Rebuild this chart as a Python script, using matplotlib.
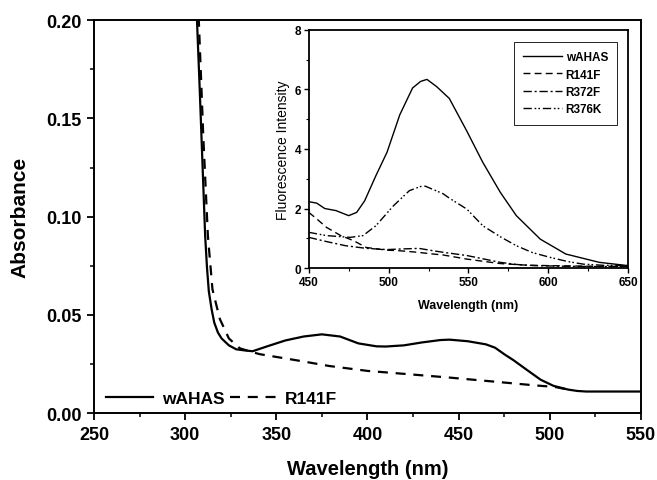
import numpy as np
import matplotlib
matplotlib.use('Agg')
import matplotlib.pyplot as plt
from matplotlib.ticker import MultipleLocator, FormatStrFormatter

plt.rcParams['font.family'] = ['Liberation Sans', 'DejaVu Sans']
plt.rcParams['font.weight'] = 'bold'

# Espectro de absorbancia (grafico principal)
wl_wahas = [304, 306.5, 308, 309, 310, 311, 312, 313, 314.5, 316, 318, 320, 324, 328, 332, 337,
            345, 355, 365, 375, 385, 395, 405, 410, 420, 430, 440, 445, 455, 465, 470, 475,
            480, 487, 495, 502, 510, 515, 520, 530, 540, 550]
abs_wahas = [0.25, 0.20, 0.165, 0.14, 0.115, 0.09, 0.074, 0.062, 0.053, 0.046, 0.041, 0.038,
             0.0345, 0.0325, 0.032, 0.0315, 0.034, 0.037, 0.039, 0.0401, 0.039, 0.0355, 0.034,
             0.0339, 0.0345, 0.036, 0.0372, 0.0374, 0.0366, 0.035, 0.0333, 0.030, 0.027, 0.0223,
             0.017, 0.0139, 0.012, 0.0113, 0.011, 0.011, 0.011, 0.011]

wl_r141f = [305, 307.5, 310, 312.5, 315, 319, 324, 330, 337, 341, 363, 379, 400, 420, 445,
            470, 491, 503, 510]
abs_r141f = [0.25, 0.20, 0.14, 0.09, 0.063, 0.048, 0.038, 0.033, 0.031, 0.030, 0.0266, 0.024,
             0.0215, 0.020, 0.0181, 0.016, 0.0142, 0.0133, 0.012]

# Espectros de fluorescencia (recuadro)
wl_f_wahas = [450, 455, 460, 467, 475, 480, 485, 492, 499, 507, 515, 520, 524, 530, 538, 549,
              559, 570, 580, 595, 611, 632, 650]
fl_wahas = [2.23, 2.18, 2.0, 1.93, 1.76, 1.87, 2.26, 3.1, 3.89, 5.15, 6.05, 6.27, 6.34, 6.1,
            5.7, 4.6, 3.55, 2.54, 1.76, 0.97, 0.47, 0.19, 0.08]

wl_f_r141f = [450, 455, 461, 470, 478, 486, 499, 507, 518, 528, 534, 549, 560, 570, 585, 600, 625, 650]
fl_r141f = [1.87, 1.65, 1.37, 1.09, 0.92, 0.69, 0.60, 0.58, 0.53, 0.47, 0.44, 0.30, 0.22, 0.15,
            0.10, 0.08, 0.06, 0.05]

wl_f_r372f = [450, 461, 473, 486, 499, 508, 519, 528, 534, 549, 560, 570, 580, 591, 610, 630, 650]
fl_r372f = [1.03, 0.89, 0.75, 0.66, 0.62, 0.64, 0.66, 0.58, 0.53, 0.42, 0.30, 0.19, 0.12, 0.08,
            0.06, 0.05, 0.05]

wl_f_r376k = [450, 461, 476, 484, 492, 503, 513, 520, 523, 534, 538, 549, 559, 570, 580, 590,
              601, 612, 622, 635, 650]
fl_r376k = [1.2, 1.09, 1.03, 1.09, 1.42, 2.09, 2.6, 2.74, 2.75, 2.5, 2.35, 1.98, 1.42, 1.05,
            0.75, 0.52, 0.36, 0.22, 0.13, 0.09, 0.08]

fig = plt.figure(figsize=(6.57, 4.81), dpi=100)
ax = fig.add_axes([0.143, 0.139, 0.8326, 0.817])

ax.plot(wl_wahas, abs_wahas, color='black', lw=1.6, label='wAHAS')
ax.plot(wl_r141f, abs_r141f, color='black', lw=1.6, ls=(0, (4.5, 3.5)), label='R141F')
ax.set_xlim(250, 550)
ax.set_ylim(0, 0.20)
ax.xaxis.set_major_locator(MultipleLocator(50))
ax.xaxis.set_minor_locator(MultipleLocator(25))
ax.yaxis.set_major_locator(MultipleLocator(0.05))
ax.yaxis.set_minor_locator(MultipleLocator(0.025))
ax.yaxis.set_major_formatter(FormatStrFormatter('%.2f'))
ax.tick_params(which='major', direction='out', length=5, width=1.3, labelsize=13, pad=4)
ax.tick_params(which='minor', direction='out', length=3, width=1.1)
for s in ax.spines.values():
    s.set_linewidth(1.4)
ax.set_xlabel('Wavelength (nm)', fontsize=14.5, fontweight='bold', labelpad=12)
ax.set_ylabel('Absorbance', fontsize=15, fontweight='bold', labelpad=12)
ax.legend(loc='lower left', ncol=2, frameon=False, fontsize=12.5, handlelength=2.7,
          handletextpad=0.5, columnspacing=0.3, borderaxespad=0.0, bbox_to_anchor=(0.01, 0.0))

# Recuadro
axi = fig.add_axes([0.470, 0.4407, 0.486, 0.4949])
axi.plot(wl_f_wahas, fl_wahas, color='black', lw=1.0, label='wAHAS')
axi.plot(wl_f_r141f, fl_r141f, color='black', lw=1.0, ls=(0, (5, 3)), label='R141F')
axi.plot(wl_f_r372f, fl_r372f, color='black', lw=1.0, ls=(0, (6, 2, 1.5, 2)), label='R372F')
axi.plot(wl_f_r376k, fl_r376k, color='black', lw=1.0, ls=(0, (6, 2, 1.2, 1.5, 1.2, 2)), label='R376K')
axi.set_xlim(450, 650)
axi.set_ylim(0, 8)
axi.xaxis.set_major_locator(MultipleLocator(50))
axi.xaxis.set_minor_locator(MultipleLocator(25))
axi.yaxis.set_major_locator(MultipleLocator(2))
axi.yaxis.set_minor_locator(MultipleLocator(1))
axi.tick_params(which='major', direction='out', length=3.5, width=1.0, labelsize=8.5, pad=2)
axi.tick_params(which='minor', direction='out', length=2, width=0.8)
for s in axi.spines.values():
    s.set_linewidth(1.3)
axi.set_xlabel('Wavelength (nm)', fontsize=9, fontweight='bold', labelpad=8)
axi.set_ylabel('Fluorescence Intensity', fontsize=10, fontweight='normal', labelpad=3)
leg = axi.legend(loc='upper right', fontsize=8.5, handlelength=3.3, handletextpad=0.3,
                 fancybox=False, edgecolor='black', framealpha=1, borderpad=0.8,
                 labelspacing=0.45, bbox_to_anchor=(0.985, 0.975))
leg.get_frame().set_linewidth(0.6)

plt.savefig('out.png', dpi=100)
